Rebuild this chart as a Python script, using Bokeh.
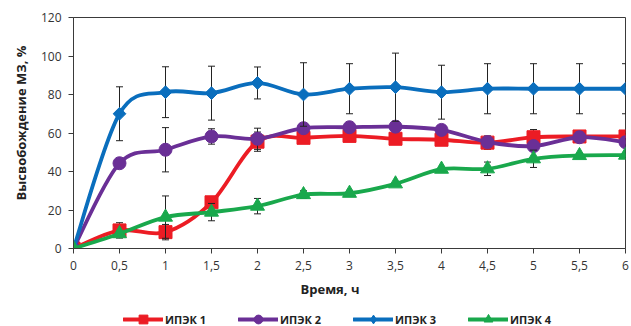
import numpy as np
from bokeh.plotting import figure
from bokeh.layouts import column
from bokeh.models import FixedTicker, Legend, LegendItem, Title
from bokeh.embed import file_html
from bokeh.resources import INLINE

# ---- data ----
time_h = [0, 0.5, 1, 1.5, 2, 2.5, 3, 3.5, 4, 4.5, 5, 5.5, 6]
x_tick_labels = ["0", "0,5", "1", "1,5", "2", "2,5", "3", "3,5", "4", "4,5", "5", "5,5", "6"]
y_ticks = [0, 20, 40, 60, 80, 100, 120]

series_names = ["ИПЭК 1", "ИПЭК 2", "ИПЭК 3", "ИПЭК 4"]
ipek1 = [0, 9.4, 8.5, 24, 55.5, 57.5, 58.5, 57, 56.5, 55, 57.8, 58.2, 58.2]
ipek1_err = [0, 4, 4, 0, 5, 1.5, 1, 1, 1, 3.5, 4, 1.5, 1.5]
ipek2 = [0, 44.3, 51.3, 58.2, 57, 62.5, 63, 63.3, 61.6, 55.3, 53.2, 57.8, 55.2]
ipek2_err = [0, 1, 11.5, 4, 5.5, 2, 1, 1, 2, 2, 2, 2, 2]
ipek3 = [0, 70, 81.2, 80.7, 86, 80, 83, 83.8, 81.2, 83, 83, 83, 83]
ipek3_err = [0, 14, 13.2, 14, 8.3, 16.5, 13, 17.7, 14, 13, 13, 13, 13]
ipek4 = [0, 7.7, 16.3, 18.9, 22, 28, 28.7, 33.6, 41.2, 41.4, 46.6, 48.3, 48.5]
ipek4_err = [0, 1, 11, 4.5, 4, 2, 1.5, 0.5, 1, 3.5, 4.5, 1, 1]

colors = ["#EC1C24", "#6A2F96", "#0A6EBD", "#19A84C"]
markers = ["square", "circle", "square", "triangle"]
legend_markers = ["square", "circle", "diamond", "triangle"]
marker_sizes = [13, 13, 9, 14]
marker_angles = [0, 0, np.pi / 4, 0]

FONT = "Open Sans"

p = figure(width=631, height=302, output_backend="svg", toolbar_location=None,
           x_range=(0, 6), y_range=(0, 120),
           min_border_left=73, min_border_right=6, min_border_top=17, min_border_bottom=54)
p.xgrid.visible = False
p.ygrid.visible = False
p.outline_line_color = "#3a3a3a"
p.outline_line_width = 1
p.background_fill_color = "white"
p.border_fill_color = "white"

for ax in (p.xaxis[0], p.yaxis[0]):
    ax.axis_line_color = "#3a3a3a"
    ax.major_tick_line_color = "#3a3a3a"
    ax.major_tick_out = 5
    ax.major_tick_in = 0
    ax.minor_tick_line_color = None
    ax.major_label_text_font = FONT
    ax.major_label_text_font_size = "12px"
    ax.major_label_text_color = "#333333"

p.xaxis.ticker = FixedTicker(ticks=time_h)
p.xaxis.major_label_overrides = {float(t): s for t, s in zip(time_h, x_tick_labels)}
p.xaxis.major_label_standoff = 7
p.yaxis.ticker = FixedTicker(ticks=y_ticks)
p.yaxis.major_label_standoff = 7


def smooth_bezier(xs, ys):
    xs = np.asarray(xs, float)
    ys = np.asarray(ys, float)
    n = len(xs)
    x0, y0, x1, y1, cx0, cy0, cx1, cy1 = [], [], [], [], [], [], [], []
    for i in range(n - 1):
        im = max(i - 1, 0)
        ip2 = min(i + 2, n - 1)
        x0.append(xs[i]); y0.append(ys[i])
        x1.append(xs[i + 1]); y1.append(ys[i + 1])
        cx0.append(xs[i] + (xs[i + 1] - xs[im]) / 6)
        cy0.append(ys[i] + (ys[i + 1] - ys[im]) / 6)
        cx1.append(xs[i + 1] - (xs[ip2] - xs[i]) / 6)
        cy1.append(ys[i + 1] - (ys[ip2] - ys[i]) / 6)
    return dict(x0=x0, y0=y0, x1=x1, y1=y1, cx0=cx0, cy0=cy0, cx1=cx1, cy1=cy1)


def draw_series(fig, vals, errs, col, mk, ms, ang):
    v = np.asarray(vals, float)
    e = np.asarray(errs, float)
    t = np.asarray(time_h, float)
    mask = e > 0
    fig.segment(t[mask], v[mask] - e[mask], t[mask], v[mask] + e[mask],
                line_color="#222222", line_width=1)
    fig.scatter(np.concatenate([t[mask], t[mask]]),
                np.concatenate([v[mask] - e[mask], v[mask] + e[mask]]),
                marker="dash", size=7, line_color="#222222", line_width=1)
    b = smooth_bezier(time_h, vals)
    rb = fig.bezier(x0=b["x0"], y0=b["y0"], x1=b["x1"], y1=b["y1"],
                    cx0=b["cx0"], cy0=b["cy0"], cx1=b["cx1"], cy1=b["cy1"],
                    line_color=col, line_width=3.8, line_cap="round")
    rs = fig.scatter(time_h, vals, marker=mk, size=ms, angle=ang,
                     fill_color=col, line_color=col, line_width=1)
    return rb, rs


all_vals = [ipek1, ipek2, ipek3, ipek4]
all_errs = [ipek1_err, ipek2_err, ipek3_err, ipek4_err]
for vals, errs, col, mk, ms, ang in zip(all_vals, all_errs, colors, markers,
                                        marker_sizes, marker_angles):
    draw_series(p, vals, errs, col, mk, ms, ang)

x_title = Title(text="Время, ч", align="left", offset=227,
                text_font=FONT, text_font_size="13px", text_font_style="bold",
                text_color="#222222")
p.add_layout(x_title, "below")

y_title = Title(text="Высвобождение МЗ, %", align="left", offset=48, standoff=16,
                text_font=FONT, text_font_size="13px", text_font_style="bold",
                text_color="#222222")
p.add_layout(y_title, "left")

# ---- legend strip (same series, drawn outside its visible range) ----
lg = figure(width=631, height=24, output_backend="svg", toolbar_location=None,
            x_range=(0, 6), y_range=(1000, 1001), x_axis_type=None, y_axis_type=None,
            min_border=0, min_border_left=0, min_border_right=0,
            min_border_top=0, min_border_bottom=0)
lg.xgrid.visible = False
lg.ygrid.visible = False
lg.outline_line_color = None
lg.background_fill_color = "white"
lg.border_fill_color = "white"

items = []
for name, vals, errs, col, mk, ms in zip(series_names, all_vals, all_errs, colors,
                                         legend_markers, marker_sizes):
    rb, rs = draw_series(lg, vals, errs, col, mk, ms, 0)
    items.append(LegendItem(label=name, renderers=[rb, rs]))

legend = Legend(items=items, orientation="horizontal", location=(50, -4),
                glyph_width=40, glyph_height=22, label_standoff=2, label_width=71,
                label_height=14, spacing=2, padding=0, margin=0, border_line_color=None,
                background_fill_alpha=0,
                label_text_font=FONT, label_text_font_size="11px",
                label_text_font_style="bold", label_text_color="#222222")
lg.add_layout(legend, "center")

layout = column(p, lg, spacing=0)
open("out.html", "w").write(file_html(layout, INLINE))
